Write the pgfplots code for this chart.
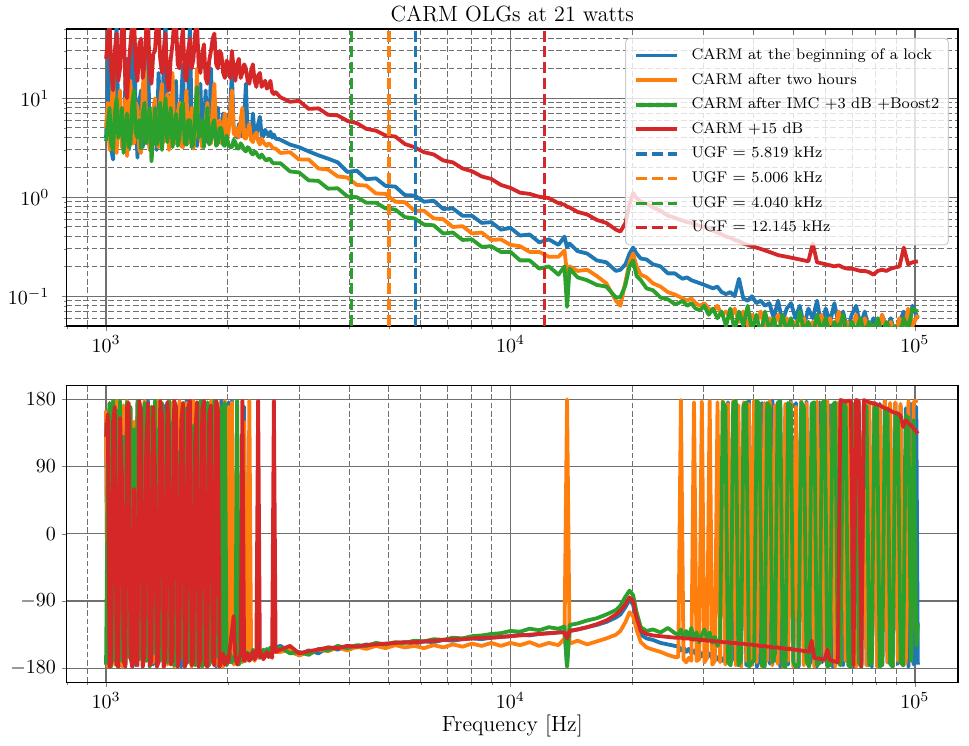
\documentclass[border=0pt]{standalone}
\usepackage{pgfplots}
\usepackage{pgfplotstable}
\pgfplotsset{compat=1.18}
\definecolor{cB}{HTML}{1F77B4}
\definecolor{cO}{HTML}{FF7F0E}
\definecolor{cG}{HTML}{2CA02C}
\definecolor{cR}{HTML}{D62728}
\definecolor{gridc}{RGB}{112,112,112}
\definecolor{legc}{RGB}{204,204,204}

\pgfplotstableread{
f b o g r
1000 4.0 5 3.7 25
1010 12 9 5.5 40
1020 45 3 8 60
1030 3.0 6 3.4 18
1041 2.4 20 3.0 12
1051 20 4 7 30
1062 60 2.8 10 45
1072 5 8 4 15
1083 8 12 4.5 20
1094 3.5 3.2 8 50
1105 3.0 4 2.8 60
1116 14 10 5 14
1127 25 2.6 7 10
1138 3.0 6 3.2 22
1149 4.5 15 3.5 35
1161 30 3.5 9 60
1173 60 3.5 12 60
1184 6 9 4.5 20
1196 2.5 8 4 15
1208 9 3.0 6 35
1220 12 2.8 3.1 40
1232 3.2 12 7 16
1245 5 25 9 22
1257 16 5 3.5 50
1270 30 4 5 60
1282 4 3.0 8 18
1295 3.2 3.1 2.3 14
1308 7 7 4 28
1321 9 10 8 30
1335 3.0 3.5 3.4 60
1348 18 3.2 4 60
1361 8 9 9 25
1375 3.5 14 3.0 18
1389 25 3.6 6 30
1403 60 5 10 45
1417 4 11 3.6 14
1431 6 3.0 5.5 12
1445 11 6 8 25
1460 3.3 18 3.2 35
1474 5 4 5 60
1489 15 3.5 7 60
1504 3.6 7 3.3 22
1519 4 9 4 20
1534 10 3.3 8 35
1549 22 3.2 9 50
1565 3.5 6 3.5 17
1580 3.4 12 3.4 15
1596 9 3.5 6 30
1612 60 4.5 6 40
1628 5 8 3.2 20
1645 7 3.1 3.5 25
1661 3.4 5 7 45
1678 3.3 20 13 60
1694 8 4 4 22
1711 14 4 4.5 18
1729 3.5 3.2 6 28
1746 5 3.4 3.2 35
1763 12 6 5 16
1781 3.6 9 8 14
1799 4.2 3.6 3.4 24
1817 20 3.5 3.8 30
1835 6 8 5.5 40
1853 4.5 14 6 45
1872 3.5 4.0 3.3 22
1890 8 4.2 3.5 20
1909 4 6 5 30
1928 3.8 3.5 5 28
1948 7 4.8 3.4 18
1967 6 7 3.3 16
1987 4.0 3.8 4.2 24
2007 4.8 4.5 3.4 22
2027 8 7 3.2 16
2047 18 12 3.2 30
2068 5 4.4 3.8 20
2088 4.6 4.2 3.6 15
2109 4.0 5 3.1 22
2130 5.5 4.0 3.1 25
2152 4.2 6 3.5 16
2173 4.3 8 3.3 18
2195 6 4.0 3.0 22
2217 14 3.9 2.9 20
2239 4.5 4.6 3.2 15
2261 4.6 5.5 3.1 14
2284 4.0 3.8 2.8 19
2307 7 3.6 2.7 22
2330 4.4 4.2 2.9 15
2353 4.2 4.5 2.8 13
2377 5.5 3.7 2.6 17
2401 6.5 3.4 2.5 18
2425 4.2 3.9 2.7 13
2449 4.1 3.6 2.55 14
2474 4.8 3.4 2.4 15
2498 4.4 3.3 2.35 12.5
2523 4.2 3.5 2.45 13
2549 4.6 3.4 2.4 15
2574 4.0 3.2 2.25 11.5
2600 4.3 3.1 2.2 11
2626 3.9 3.1 2.2 11.5
2700 3.8 2.8 2.2 10.2
2850 3.4 2.85 1.82 9.2
3000 3.2 2.4 1.78 9.4
3170 2.9 2.4 1.48 7.8
3350 2.65 1.95 1.46 7.9
3540 2.45 1.9 1.22 6.8
3740 2.25 1.62 1.23 6.7
3950 1.8 1.58 1.02 5.9
4170 1.85 1.33 1.0 5.6
4400 1.52 1.31 0.88 4.9
4650 1.55 1.09 0.88 4.7
4910 1.3 1.08 0.77 4.2
5190 1.28 0.9 0.75 4.1
5480 1.05 0.89 0.63 3.45
5790 1.04 0.73 0.61 3.2
6110 0.9 0.73 0.53 2.85
6460 0.92 0.61 0.52 2.7
6820 0.76 0.6 0.43 2.35
7200 0.77 0.5 0.44 2.25
7610 0.65 0.51 0.37 1.95
8030 0.65 0.43 0.375 1.83
8490 0.55 0.44 0.315 1.62
8960 0.56 0.37 0.32 1.53
9470 0.47 0.375 0.28 1.33
10000 0.49 0.33 0.28 1.24
10560 0.41 0.32 0.23 1.11
11150 0.42 0.28 0.23 1.08
11780 0.35 0.28 0.19 1.01
12440 0.375 0.25 0.2 0.98
13140 0.33 0.25 0.165 0.87
13600 0.4 0.29 0.2 0.84
13800 0.31 0.17 0.078 0.8
14000 0.34 0.2 0.19 0.79
14650 0.285 0.18 0.155 0.71
15470 0.27 0.185 0.145 0.67
16340 0.23 0.16 0.13 0.59
17260 0.22 0.135 0.125 0.55
18230 0.18 0.09 0.097 0.47
18700 0.185 0.08 0.098 0.45
19250 0.21 0.14 0.13 0.55
19700 0.27 0.22 0.2 0.85
20100 0.31 0.27 0.23 1.1
20500 0.27 0.2 0.16 0.98
21000 0.24 0.165 0.145 0.9
21700 0.235 0.155 0.12 0.86
22500 0.21 0.135 0.115 0.79
23500 0.2 0.125 0.097 0.73
24500 0.17 0.11 0.093 0.65
25500 0.17 0.104 0.083 0.62
26000 0.16 0.1 0.085 0.6
26650 0.15 0.095 0.09 0.58
27320 0.155 0.09 0.08 0.56
28000 0.145 0.095 0.085 0.55
28700 0.14 0.085 0.075 0.53
29420 0.135 0.08 0.072 0.51
30150 0.13 0.085 0.08 0.5
30910 0.125 0.075 0.065 0.48
31680 0.12 0.07 0.075 0.46
32470 0.125 0.08 0.06 0.44
33280 0.11 0.065 0.07 0.42
34110 0.105 0.07 0.05 0.4
34970 0.11 0.06 0.075 0.39
35840 0.1 0.075 0.045 0.37
36740 0.15 0.055 0.07 0.36
37650 0.095 0.07 0.05 0.34
38600 0.09 0.05 0.08 0.33
39560 0.1 0.065 0.045 0.32
40550 0.085 0.055 0.065 0.31
41570 0.09 0.07 0.04 0.3
42600 0.08 0.045 0.07 0.29
43670 0.085 0.06 0.045 0.28
44760 0.06 0.05 0.06 0.27
45880 0.09 0.065 0.04 0.26
47020 0.055 0.045 0.065 0.255
48200 0.075 0.06 0.045 0.25
49400 0.085 0.04 0.06 0.245
50640 0.06 0.055 0.04 0.24
51900 0.08 0.045 0.07 0.235
53200 0.05 0.06 0.045 0.23
54530 0.075 0.04 0.055 0.225
55900 0.06 0.055 0.04 0.34
57290 0.09 0.045 0.065 0.22
58720 0.05 0.065 0.045 0.215
60190 0.075 0.04 0.06 0.21
61700 0.055 0.06 0.04 0.205
63240 0.085 0.045 0.055 0.2
64820 0.05 0.07 0.045 0.205
66440 0.07 0.04 0.065 0.195
68100 0.045 0.055 0.04 0.19
69800 0.065 0.045 0.055 0.19
71550 0.08 0.065 0.045 0.185
73340 0.05 0.04 0.06 0.18
75170 0.07 0.06 0.04 0.18
77050 0.045 0.045 0.055 0.175
78980 0.06 0.05 0.045 0.165
80950 0.04 0.04 0.06 0.18
82970 0.065 0.065 0.04 0.185
85050 0.045 0.045 0.055 0.18
87170 0.06 0.055 0.045 0.19
89350 0.04 0.04 0.05 0.195
91590 0.055 0.06 0.04 0.2
93880 0.07 0.045 0.06 0.31
96220 0.045 0.075 0.045 0.21
98630 0.08 0.05 0.075 0.22
101700 0.06 0.065 0.07 0.225
}\magtab

\pgfplotstableread{
f b o g r
1000 150 165 -175 130
1010 -175 -178 90 160
1020 165 175 175 -178
1030 -170 -170 -178 -172
1041 175 160 178 150
1051 -160 -175 -170 170
1062 120 178 165 -175
1072 -178 -165 -178 -178
1083 172 150 178 155
1094 -168 -178 -170 80
1105 160 172 130 -170
1116 -175 -170 -178 -178
1127 178 178 176 170
1138 -150 -160 -165 175
1149 168 165 170 -165
1161 -172 -178 -178 -178
1173 140 150 140 60
1184 -176 -172 -172 -172
1196 175 175 178 -176
1208 -165 -168 -168 178
1220 170 160 100 165
1232 -178 -176 -176 -178
1245 155 178 175 -160
1257 -170 -165 -170 120
1270 178 145 160 175
1282 -160 -178 -178 -176
1295 165 170 170 -170
1308 -175 -172 -160 170
1321 130 165 178 90
1335 -172 -170 -175 -178
1348 176 178 140 -172
1361 -168 -165 -170 178
1375 160 175 175 160
1389 -178 -178 -178 -178
1403 172 160 165 -165
1417 -165 -175 -172 176
1431 178 168 178 140
1445 -170 -170 -168 -175
1460 150 176 150 -170
1474 -176 -178 -176 178
1489 170 150 170 170
1504 -160 -172 -178 -178
1519 175 178 110 -165
1534 -178 -165 -165 150
1549 165 170 175 175
1565 -172 -176 -178 -178
1580 178 175 168 -172
1596 -168 -170 -172 168
1612 145 160 178 178
1628 -175 -178 -160 -176
1645 170 178 145 -170
1661 -165 -168 -176 130
1678 176 165 172 176
1694 -178 -175 -170 -178
1711 160 172 178 -168
1729 -170 -178 -178 165
1746 178 176 120 178
1763 -172 -165 -168 -175
1781 168 150 176 -178
1799 -176 -172 -175 160
1817 155 178 165 172
1835 -165 -170 -172 -170
1853 175 168 178 -176
1872 -178 -176 -165 178
1890 170 175 150 165
1909 -170 -168 -178 -178
1928 178 160 170 -170
1948 -175 -178 -170 -160
1967 165 178 175 -175
1987 -168 -172 -176 -165
2007 176 170 -168 -172
2027 -172 -165 -160 -150
2047 178 176 -172 -130
2068 -170 -175 -165 -110
2088 -165 -168 -170 -165
2109 -172 172 178 -175
2130 -160 -170 -175 -168
2152 -168 -165 -168 -160
2173 -163 -172 -160 178
2195 170 150 -170 -170
2217 -170 -170 -158 -165
2239 -162 -165 -166 -160
2261 -168 178 -160 -170
2284 -160 -168 -168 -165
2307 -166 -162 -155 -158
2330 -158 -170 -162 -168
2353 -164 -160 -158 -162
2377 -160 -166 -164 178
2401 -166 -158 -156 -165
2425 -158 -164 -160 -160
2449 -162 -160 -155 -168
2474 -156 -165 -160 -163
2498 -160 -157 -154 -158
2523 -155 -162 -158 -165
2549 -158 -156 -152 -160
2574 -153 -160 -156 -166
2600 -156 -155 -151 178
2626 -152 -158 -153 -158
2700 -150 -158 -152 -155
2850 -158 -155 -160 -150
3000 -162 -163 -158 -160
3170 -156 -158 -162 -157
3350 -160 -155 -154 -155
3540 -152 -157 -156 -152
3740 -155 -152 -150 -153
3950 -150 -156 -153 -150
4170 -152 -151 -149 -151
4400 -148 -154 -150 -149
4650 -150 -150 -146 -148
4910 -147 -153 -148 -147
5190 -148 -149 -145 -146
5480 -145 -152 -146 -145
5790 -147 -150 -143 -145
6110 -144 -153 -144 -144
6460 -145 -149 -141 -143
6820 -142 -152 -142 -142
7200 -143 -148 -139 -141
7610 -141 -151 -140 -141
8030 -140 -147 -137 -140
8490 -141 -150 -136 -139
8960 -139 -146 -134 -139
9470 -138 -150 -133 -138
10000 -137 -146 -130 -137
10560 -135 -149 -131 -136
11150 -136 -145 -127 -135
11780 -134 -150 -129 -134
12440 -133 -146 -125 -133
13140 -132 -149 -127 -132
13600 -130 -140 -124 -132
13800 -176 180 -178 -140
14000 -130 -147 -122 -130
14650 -128 -143 -120 -128
15470 -125 -148 -116 -125
16340 -122 -144 -113 -121
17260 -118 -140 -108 -116
18230 -112 -135 -102 -108
18700 -108 -130 -96 -103
19250 -98 -118 -84 -94
19700 -88 -105 -76 -85
20100 -95 -110 -82 -90
20500 -118 -128 -105 -112
21000 -135 -145 -125 -130
21700 -140 -152 -130 -134
22500 -142 -155 -128 -136
23500 -146 -158 -132 -137
24500 -148 -162 -126 -138
25500 -150 -165 -133 -139
26000 -150 -165 -135 -139
26390 -156 179 -128 -139
26786 -152 -168 -140 -140
27188 -158 -172 -130 -140
27595 -154 -166 -138 -140
28009 -160 -170 -126 -141
28430 -156 176 -142 -141
28856 -162 -170 -132 -141
29289 -157 -168 -145 -142
29728 -164 177 -135 -142
30174 -158 -172 -128 -142
30627 -165 -166 -140 -143
31086 -160 178 -132 -143
31553 -167 -175 -146 -143
32026 -162 -170 -138 -144
32506 -168 176 -150 -144
32994 -164 -172 -140 -144
33489 -170 178 176 -145
33991 -166 -175 170 -145
34501 176 174 -172 -145
35019 -172 -170 -176 -146
35544 -165 178 175 -146
36077 174 -176 178 -146
36618 -175 172 -176 -147
37168 -170 -178 -170 -147
37725 172 176 172 -147
38291 -176 -170 176 -148
38865 178 174 -178 -148
39448 -170 -176 -172 -148
40040 176 178 -170 -149
40641 -178 -172 178 -149
41250 -168 170 174 -150
41869 175 -178 -176 -150
42497 -176 175 -178 -150
43135 170 -170 175 -151
43782 -174 178 170 -151
44438 178 -176 -172 -152
45105 -170 172 -160 -152
45781 176 -174 174 -152
46468 -178 177 178 -153
47165 -172 -178 -176 -153
47873 172 174 -178 -154
48591 -175 -170 175 -154
49320 178 176 172 -154
50060 -170 -178 -172 -155
50811 175 170 -178 -155
51573 -178 -172 -175 -156
52346 170 178 176 -156
53132 -174 -176 170 -157
53929 177 175 -170 -157
54738 -176 -170 -178 -158
55559 -168 172 174 -143
56392 174 -178 176 -166
57238 -178 177 -176 -167
58096 176 -174 -172 -167
58968 -172 176 175 -168
59852 178 -170 178 -168
60750 -175 178 -178 -155
61661 172 -176 -175 -169
62586 -178 172 172 -170
63525 175 -178 176 -171
64478 -170 175 -170 -172
65445 178 -172 -176 179
66427 -176 178 174 178
67423 174 -170 170 177
68435 -172 174 -176 178
69461 177 -176 -178 178
70503 -178 170 172 -176
71561 -170 -178 176 179
72634 175 176 -172 178
73724 -174 -172 -178 -178
74830 178 178 174 179
75952 -176 -176 170 177
77091 172 174 -176 176
78248 -178 -170 -172 175
79421 176 176 168 174
80613 -170 -178 172 173
81822 174 172 -178 172
83049 -176 -174 -174 170
84295 178 178 165 168
85559 -172 -172 168 167
86843 170 175 -174 165
88145 -178 -178 -178 163
89468 175 176 162 162
90810 -174 -170 160 161
92172 172 174 -172 158
93554 -176 -176 -176 143
94958 168 -172 158 152
96382 -178 178 155 148
97828 174 -170 -170 145
99295 -175 176 152 141
100785 170 178 -150 137
101700 -175 178 -120 134
}\phtab

\begin{document}
\begin{tikzpicture}
\path[use as bounding box] (0,0) rectangle (484.5pt,372.5pt);
\begin{axis}[
  scale only axis, width=445.6pt, height=148.5pt,
  xmode=log, xmin=799.4, xmax=127760,
  ymode=log, ymin=0.05, ymax=50,
  at={(33.35pt,209.5pt)}, anchor=south west,
  tick pos=left, tick align=outside,
  major tick length=2.3pt, minor tick length=1.3pt,
  grid=both,
  major grid style={gridc, line width=0.6pt, solid},
  minor grid style={gridc, line width=0.5pt, dash pattern=on 2.8pt off 1.35pt},
  axis line style={line width=0.6pt},
  tick label style={font=\fontsize{10}{12}\selectfont},
  xticklabel style={anchor=base, yshift=-10.7pt},
  yticklabel style={anchor=east, inner sep=0pt, xshift=-6.2pt},
  title={CARM OLGs at 21 watts},
  title style={at={(axis description cs:0.5,1)}, anchor=base, yshift=-2.35pt, font=\fontsize{11}{13}\selectfont},
  legend cell align=left,
  legend image code/.code={\draw[#1] (0pt,0pt) -- (20.3pt,0pt);},
  legend style={at={(axis description cs:1,1)}, anchor=north east, xshift=-4.5pt, yshift=-4.5pt,
    font=\fontsize{7.7}{9.5}\selectfont, fill=white, fill opacity=0.8, text opacity=1,
    draw=legc, draw opacity=1, rounded corners=2pt, line width=0.5pt,
    inner xsep=4.5pt, inner ysep=5pt, row sep=5.2pt, column sep=6.3pt,
    nodes={inner sep=0pt, text height=5.5pt, text depth=1.6pt}},
]
\addplot[cB, line width=1.9pt, line join=round] table[x=f, y=b] {\magtab};
\addlegendentry{CARM at the beginning of a lock}
\addplot[cO, line width=1.9pt, line join=round] table[x=f, y=o] {\magtab};
\addlegendentry{CARM after two hours}
\addplot[cG, line width=1.9pt, line join=round] table[x=f, y=g] {\magtab};
\addlegendentry{CARM after IMC +3 dB +Boost2}
\addplot[cR, line width=1.9pt, line join=round] table[x=f, y=r] {\magtab};
\addlegendentry{CARM +15 dB}
\addplot[cB, line width=1.6pt, dash pattern=on 5.5pt off 2.4pt] coordinates {(5819,0.05) (5819,50)};
\addlegendentry{UGF $=$ 5.819 kHz}
\addplot[cO, line width=1.6pt, dash pattern=on 5.5pt off 2.4pt] coordinates {(5006,0.05) (5006,50)};
\addlegendentry{UGF $=$ 5.006 kHz}
\addplot[cG, line width=1.6pt, dash pattern=on 5.5pt off 2.4pt] coordinates {(4040,0.05) (4040,50)};
\addlegendentry{UGF $=$ 4.040 kHz}
\addplot[cR, line width=1.6pt, dash pattern=on 5.5pt off 2.4pt] coordinates {(12145,0.05) (12145,50)};
\addlegendentry{UGF $=$ 12.145 kHz}
\end{axis}

\begin{axis}[
  scale only axis, width=445.6pt, height=148.5pt,
  xmode=log, xmin=799.4, xmax=127760,
  ymin=-198.7, ymax=198.7,
  ytick={-180,-90,0,90,180},
  at={(33.35pt,31.35pt)}, anchor=south west,
  tick pos=left, tick align=outside,
  major tick length=2.3pt, minor tick length=1.3pt,
  grid=both,
  major grid style={gridc, line width=0.6pt, solid},
  minor grid style={gridc, line width=0.5pt, dash pattern=on 2.8pt off 1.35pt},
  axis line style={line width=0.6pt},
  tick label style={font=\fontsize{10}{12}\selectfont},
  xticklabel style={anchor=base, yshift=-10.7pt},
  yticklabel style={anchor=east, inner sep=0pt, xshift=-2.9pt},
  xlabel={Frequency [Hz]},
  xlabel style={at={(axis description cs:0.5,0)}, anchor=base, yshift=-24.7pt, font=\fontsize{11}{13}\selectfont},
]
\addplot[cB, line width=1.9pt, line join=round] table[x=f, y=b] {\phtab};
\addplot[cO, line width=1.9pt, line join=round] table[x=f, y=o] {\phtab};
\addplot[cG, line width=1.9pt, line join=round] table[x=f, y=g] {\phtab};
\addplot[cR, line width=1.9pt, line join=round] table[x=f, y=r] {\phtab};
\end{axis}
\end{tikzpicture}
\end{document}
